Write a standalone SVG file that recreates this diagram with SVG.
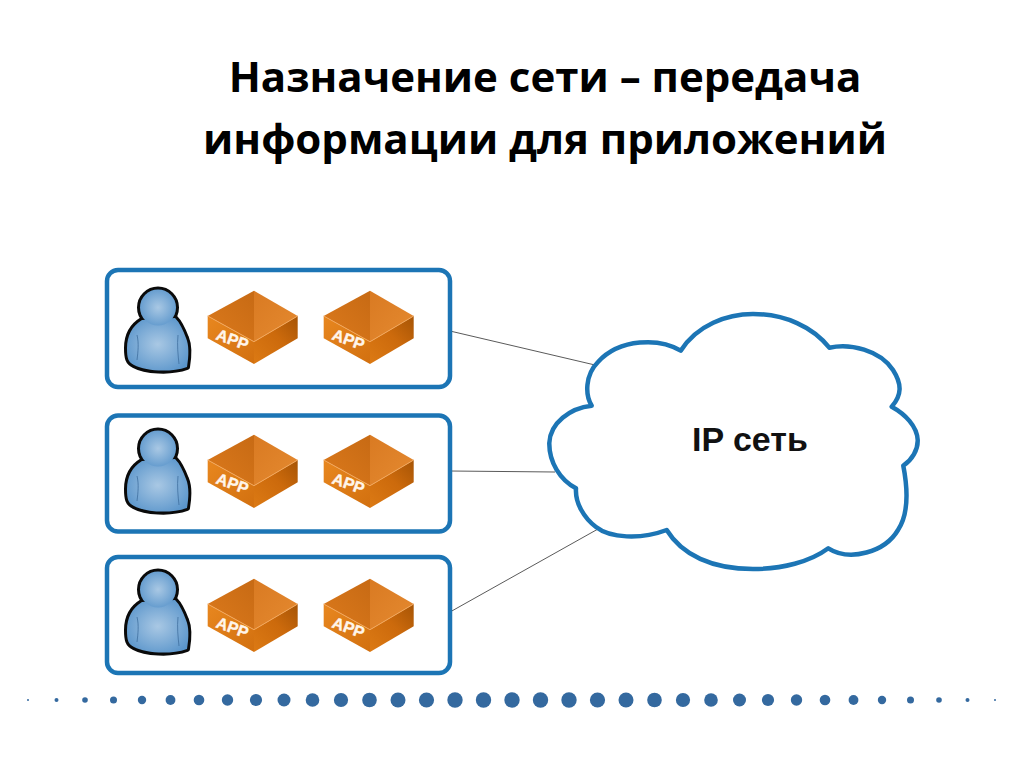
<svg xmlns="http://www.w3.org/2000/svg" xmlns:xlink="http://www.w3.org/1999/xlink" width="1024" height="768" viewBox="0 0 1024 768">
<style>
.title{font-family:"Open Sans","Noto Sans","Liberation Sans",sans-serif;font-weight:700;font-size:42px;fill:#000;text-anchor:middle}
.row{fill:#fff;stroke:#1c75b5;stroke-width:4.500}
.conn{stroke:#5a5a5a;stroke-width:1;fill:none}
.cloud{fill:#fff;stroke:#1c75b5;stroke-width:4.500;stroke-linejoin:round}
.cloudtext{font-family:"Liberation Sans",Arial,sans-serif;font-weight:700;font-size:34px;fill:#111}
.apptext{font-family:"Liberation Sans",Arial,sans-serif;font-weight:700;font-size:16px;fill:#fff5ea;stroke:#fff5ea;stroke-width:0.400}
.dot{fill:#34699f}
</style>
<defs>
<radialGradient id="skin" cx="50%" cy="50%" r="60%"><stop offset="0" stop-color="#a9c8e4"/><stop offset="1" stop-color="#5a95cb"/></radialGradient>
<linearGradient id="inL" x1="0" y1="1" x2="1" y2="0"><stop offset="0" stop-color="#dc7a1c"/><stop offset="1" stop-color="#c76a14"/></linearGradient>
<linearGradient id="inR" x1="0" y1="0" x2="1" y2="1"><stop offset="0" stop-color="#d97a22"/><stop offset="1" stop-color="#e58a30"/></linearGradient>
<linearGradient id="fL" x1="0" y1="0" x2="1" y2="1"><stop offset="0" stop-color="#e8871f"/><stop offset="1" stop-color="#d2700f"/></linearGradient>
<linearGradient id="fR" x1="0" y1="1" x2="1" y2="0"><stop offset="0" stop-color="#dc7a14"/><stop offset="0.55" stop-color="#cc6a0c"/><stop offset="1" stop-color="#a65405"/></linearGradient>
<g id="person">
<path d="M142,320C132,326 127,336 127,348C127,358 128,362 134,365C145,371 170,373 187,367C189,355 189,345 186,338C183,330 180,323 175,318Z" fill="#000" stroke="#0a0a0a" stroke-width="6" stroke-linejoin="round"/>
<circle cx="158" cy="307.500" r="18" fill="#000" stroke="#0a0a0a" stroke-width="6"/>
<path d="M142,320C132,326 127,336 127,348C127,358 128,362 134,365C145,371 170,373 187,367C189,355 189,345 186,338C183,330 180,323 175,318Z" fill="url(#skin)"/>
<circle cx="158" cy="307.500" r="18" fill="url(#skin)"/>
<path d="M137,335C139,343 138,352 137,360M178,335C177,345 178,355 179,364" fill="none" stroke="#3f6f9e" stroke-width="0.800"/>
</g>
<g id="app">
<path d="M254,290.700L254,341.700L207.700,316Z" fill="url(#inL)"/>
<path d="M254,290.700L297.700,316L254,341.700Z" fill="url(#inR)"/>
<path d="M207.700,316L254,341.700L254,364L207.700,338.300Z" fill="url(#fL)"/>
<path d="M297.700,316L254,341.700L254,364L297.700,338.300Z" fill="url(#fR)"/>
<path d="M207.700,316L254,341.700L297.700,316" fill="none" stroke="#f2a75c" stroke-width="1"/>
<text class="apptext" transform="translate(215,339) rotate(20)" textLength="33">APP</text>
</g>
</defs>
<g id="title">
<text class="title" x="545" y="92">Назначение сети – передача</text>
<text class="title" x="545" y="154">информации для приложений</text>
</g>
<g id="connectors">
<line class="conn" x1="450" y1="331" x2="595" y2="365"/>
<line class="conn" x1="450" y1="471" x2="555" y2="472"/>
<line class="conn" x1="450" y1="612" x2="598" y2="529"/>
</g>
<g id="row1">
<rect class="row" x="107" y="270" width="343" height="117" rx="11"/>
<use xlink:href="#person"/><use xlink:href="#app"/><use xlink:href="#app" x="116"/>
</g>
<g id="row2">
<rect class="row" x="107" y="415.500" width="343" height="116" rx="11"/>
<use xlink:href="#person" y="141"/><use xlink:href="#app" y="144"/><use xlink:href="#app" x="116" y="144"/>
</g>
<g id="row3">
<rect class="row" x="107" y="557" width="343" height="116" rx="11"/>
<use xlink:href="#person" y="282"/><use xlink:href="#app" y="288"/><use xlink:href="#app" x="116" y="288"/>
</g>
<g id="cloud">
<path class="cloud" d="M680.700,350.700C697,325 727,314 753,314C785,314 813,327 829.300,347.700C850,343 880,350 893,370C902,384 902,395 891.700,406.700C905,414 917,426 917.700,440C918,450 912,460 903.300,465.700C908,490 908,515 898,530C885,552 850,562 828.300,548.300C810,562 782,569 753,569C712,569 682,555 666.700,530C640,540 610,538 596,527C584,518 575,503 576,488.300C560,480 549,462 549.300,443C550,423 570,408 591.700,405.700C585,395 585,375 598,362C620,338 660,338 680.700,350.700Z"/>
<text class="cloudtext" x="692" y="451">IP сеть</text>
</g>
<g id="dots">
<circle class="dot" cx="28" cy="700" r="1"/><circle class="dot" cx="56.500" cy="700" r="2"/><circle class="dot" cx="85" cy="700" r="2.800"/><circle class="dot" cx="113.500" cy="700" r="3.500"/><circle class="dot" cx="142" cy="700" r="4.200"/><circle class="dot" cx="170.500" cy="700" r="4.900"/><circle class="dot" cx="199" cy="700" r="5.300"/><circle class="dot" cx="227.500" cy="700" r="5.700"/><circle class="dot" cx="256" cy="700" r="6.100"/><circle class="dot" cx="284" cy="700" r="6.500"/><circle class="dot" cx="312.500" cy="700" r="6.800"/><circle class="dot" cx="341" cy="700" r="7.100"/><circle class="dot" cx="369.500" cy="700" r="7.300"/><circle class="dot" cx="398" cy="700" r="7.500"/><circle class="dot" cx="426.500" cy="700" r="7.600"/><circle class="dot" cx="455" cy="700" r="7.700"/><circle class="dot" cx="483.500" cy="700" r="7.700"/><circle class="dot" cx="512" cy="700" r="7.700"/><circle class="dot" cx="540.500" cy="700" r="7.700"/><circle class="dot" cx="569" cy="700" r="7.700"/><circle class="dot" cx="597.500" cy="700" r="7.600"/><circle class="dot" cx="626" cy="700" r="7.500"/><circle class="dot" cx="654.500" cy="700" r="7.300"/><circle class="dot" cx="683" cy="700" r="7.100"/><circle class="dot" cx="711" cy="700" r="6.800"/><circle class="dot" cx="739.500" cy="700" r="6.500"/><circle class="dot" cx="768" cy="700" r="6.100"/><circle class="dot" cx="796.500" cy="700" r="5.700"/><circle class="dot" cx="825" cy="700" r="5.300"/><circle class="dot" cx="853.500" cy="700" r="4.900"/><circle class="dot" cx="882" cy="700" r="4.200"/><circle class="dot" cx="910.500" cy="700" r="3.500"/><circle class="dot" cx="939" cy="700" r="2.800"/><circle class="dot" cx="967.500" cy="700" r="2"/><circle class="dot" cx="995" cy="700" r="1"/>
</g>
</svg>
